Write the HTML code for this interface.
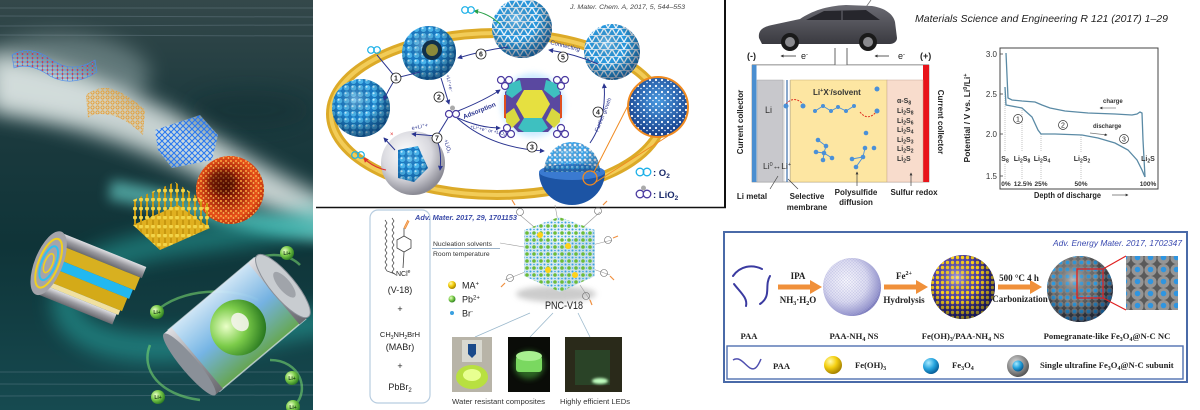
<!DOCTYPE html>
<html><head><meta charset="utf-8">
<style>
html,body{margin:0;padding:0;background:#fff;}
svg{display:block;}
text{font-family:"Liberation Sans",sans-serif;}
.sf{font-family:"Liberation Serif",serif;font-weight:bold;}
</style></head><body>
<svg width="1200" height="410" viewBox="0 0 1200 410" xmlns="http://www.w3.org/2000/svg">
<defs>
  <filter id="b10" x="-50%" y="-50%" width="200%" height="200%"><feGaussianBlur stdDeviation="10"/></filter>
  <filter id="b6" x="-50%" y="-50%" width="200%" height="200%"><feGaussianBlur stdDeviation="6"/></filter>
  <filter id="b3" x="-50%" y="-50%" width="200%" height="200%"><feGaussianBlur stdDeviation="3"/></filter>
  <filter id="b1" x="-50%" y="-50%" width="200%" height="200%"><feGaussianBlur stdDeviation="1.2"/></filter>
  <linearGradient id="lpBg" x1="0" y1="0" x2="0" y2="1">
    <stop offset="0" stop-color="#34484a"/><stop offset=".25" stop-color="#1e3b3f"/>
    <stop offset=".6" stop-color="#0f3438"/><stop offset="1" stop-color="#164a50"/>
  </linearGradient>
  <radialGradient id="gBlue" cx="38%" cy="32%" r="70%">
    <stop offset="0" stop-color="#c4ecff"/><stop offset=".35" stop-color="#4cb8f0"/>
    <stop offset=".75" stop-color="#1a86d2"/><stop offset="1" stop-color="#0b559a"/>
  </radialGradient>
  <radialGradient id="gShade" cx="40%" cy="35%" r="65%">
    <stop offset="0" stop-color="#fff" stop-opacity=".35"/><stop offset=".5" stop-color="#000" stop-opacity="0"/>
    <stop offset="1" stop-color="#001030" stop-opacity=".5"/>
  </radialGradient>
  <radialGradient id="gRed" cx="45%" cy="45%" r="60%">
    <stop offset="0" stop-color="#5a0a02"/><stop offset=".4" stop-color="#a0240a"/>
    <stop offset=".75" stop-color="#e8501a"/><stop offset="1" stop-color="#b02808"/>
  </radialGradient>
  <radialGradient id="gGreen" cx="35%" cy="35%" r="70%">
    <stop offset="0" stop-color="#eaffc8"/><stop offset=".5" stop-color="#7ccc4a"/><stop offset="1" stop-color="#2a7a20"/>
  </radialGradient>
  <radialGradient id="gYel" cx="35%" cy="30%" r="70%">
    <stop offset="0" stop-color="#fffbb0"/><stop offset=".5" stop-color="#f5d010"/><stop offset="1" stop-color="#a88400"/>
  </radialGradient>
  <radialGradient id="gBall" cx="35%" cy="30%" r="70%">
    <stop offset="0" stop-color="#a8eaff"/><stop offset=".55" stop-color="#26a4de"/><stop offset="1" stop-color="#08609a"/>
  </radialGradient>
  <radialGradient id="gGray" cx="40%" cy="35%" r="65%">
    <stop offset="0" stop-color="#dcdcdc"/><stop offset=".7" stop-color="#808080"/><stop offset="1" stop-color="#555"/>
  </radialGradient>
  <radialGradient id="gLav" cx="40%" cy="40%" r="65%">
    <stop offset="0" stop-color="#f6f6fc"/><stop offset=".55" stop-color="#dadaf0"/>
    <stop offset=".9" stop-color="#9494cc"/><stop offset="1" stop-color="#6a6ab0"/>
  </radialGradient>
  <radialGradient id="gPur" cx="40%" cy="35%" r="65%">
    <stop offset="0" stop-color="#7a6cd0"/><stop offset="1" stop-color="#2a1c7a"/>
  </radialGradient>
  <radialGradient id="gCarb" cx="40%" cy="35%" r="65%">
    <stop offset="0" stop-color="#9a9a9a"/><stop offset="1" stop-color="#3a3a3a"/>
  </radialGradient>
  <radialGradient id="gShell" cx="40%" cy="35%" r="65%">
    <stop offset="0" stop-color="#ffffff"/><stop offset=".6" stop-color="#d8d8de"/><stop offset="1" stop-color="#8a8a94"/>
  </radialGradient>
  <radialGradient id="gMag" cx="50%" cy="40%" r="60%">
    <stop offset="0" stop-color="#4a9ae0"/><stop offset="1" stop-color="#163e8a"/>
  </radialGradient>
  <linearGradient id="gSky" x1="0" y1="0" x2="0" y2="1">
    <stop offset="0" stop-color="#d8eeff"/><stop offset=".5" stop-color="#7ab8ea"/><stop offset="1" stop-color="#6aaa50"/>
  </linearGradient>
  <linearGradient id="gMetal" x1="0" y1="0" x2="0" y2="1">
    <stop offset="0" stop-color="#e0e0e4"/><stop offset=".5" stop-color="#9a9aa0"/><stop offset="1" stop-color="#6a6a70"/>
  </linearGradient>
  <linearGradient id="gCar" x1="0" y1="0" x2="0" y2="1">
    <stop offset="0" stop-color="#6a6a72"/><stop offset="1" stop-color="#3a3a40"/>
  </linearGradient>
  <pattern id="pBump" width="7" height="6.5" patternUnits="userSpaceOnUse">
    <rect width="7" height="6.5" fill="#1a7cc8"/>
    <circle cx="3.5" cy="3.2" r="3.1" fill="#4ab6ee" stroke="#1674bd" stroke-width=".5"/>
    <circle cx="2.6" cy="2.3" r="1" fill="#c4ecff"/>
  </pattern>
  <pattern id="pTri" width="8" height="7" patternUnits="userSpaceOnUse">
    <rect width="8" height="7" fill="#2a9ae0"/>
    <path d="M0,7 L4,0 L8,7" fill="none" stroke="#f4faff" stroke-width="1.3"/>
    <path d="M0,0.3 L8,0.3" stroke="#e6f4ff" stroke-width="1"/>
  </pattern>
  <pattern id="pDotW" width="6" height="6" patternUnits="userSpaceOnUse">
    <circle cx="2" cy="2" r="1.1" fill="#fff"/><circle cx="5" cy="4.5" r=".8" fill="#e0f0ff"/>
  </pattern>
  <pattern id="pDotW2" width="5" height="5" patternUnits="userSpaceOnUse">
    <circle cx="2.5" cy="2.5" r="2.2" fill="#3aaaf0" stroke="#1a70c0" stroke-width=".4"/>
    <circle cx="2" cy="2" r=".7" fill="#fff"/>
  </pattern>
  <pattern id="pYel" width="5" height="5" patternUnits="userSpaceOnUse">
    <circle cx="2.5" cy="2.5" r="1.7" fill="#ffd21a"/>
  </pattern>
  <pattern id="pBlu" width="7" height="7" patternUnits="userSpaceOnUse">
    <circle cx="3.5" cy="3.5" r="3.2" fill="#8a8a8a"/><circle cx="3.5" cy="3.5" r="1.9" fill="#2f9be0"/>
  </pattern>
  <pattern id="pInset" width="13" height="12" patternUnits="userSpaceOnUse">
    <rect width="13" height="12" fill="#5a5a5a"/>
    <circle cx="6.5" cy="6" r="6" fill="#959595"/><circle cx="6.5" cy="5.5" r="2.8" fill="#2f95e0"/>
  </pattern>
  <pattern id="pMesh" width="3" height="3" patternUnits="userSpaceOnUse">
    <path d="M0,0 L3,3 M3,0 L0,3" stroke="#a8a8d8" stroke-width=".3"/>
  </pattern>
  <pattern id="pLatB" width="6" height="6" patternUnits="userSpaceOnUse">
    <path d="M0,3 L3,0 L6,3 L3,6 Z" fill="none" stroke="#2a78f0" stroke-width="1.1"/>
  </pattern>
  <pattern id="pLatO" width="5" height="5" patternUnits="userSpaceOnUse">
    <circle cx="2.5" cy="2.5" r="1.6" fill="none" stroke="#e89a28" stroke-width=".8"/>
  </pattern>
  <pattern id="pLatR" width="5" height="4" patternUnits="userSpaceOnUse">
    <path d="M0,2 L5,2 M2.5,0 L2.5,4" stroke="#4a8aee" stroke-width=".8"/><circle cx="2.5" cy="2" r=".9" fill="#e03030"/>
  </pattern>
  <pattern id="pSpeck" width="5" height="5" patternUnits="userSpaceOnUse">
    <circle cx="1" cy="1" r="1.1" fill="#ffa840"/><circle cx="3.5" cy="3" r=".9" fill="#ffe070"/>
  </pattern>
  <pattern id="pRods" width="6" height="9" patternUnits="userSpaceOnUse">
    <rect x="2" width="2" height="9" fill="#c89810"/><circle cx="3" cy="1.5" r="2" fill="#f2d448"/>
  </pattern>
  <pattern id="pCube" width="7" height="7" patternUnits="userSpaceOnUse">
    <circle cx="2" cy="2" r="1.8" fill="#6cbc38"/><circle cx="5.5" cy="5.5" r="1" fill="#3aa0e0"/>
    <circle cx="5.5" cy="2" r=".8" fill="#3aa0e0"/><circle cx="2" cy="5.5" r=".8" fill="#3aa0e0"/>
  </pattern>
  <marker id="ar" viewBox="0 0 6 6" refX="5" refY="3" markerWidth="5" markerHeight="5" orient="auto">
    <path d="M0,0 L6,3 L0,6 Z" fill="#2b3590"/>
  </marker>
  <marker id="arG" viewBox="0 0 6 6" refX="5" refY="3" markerWidth="5" markerHeight="5" orient="auto">
    <path d="M0,0 L6,3 L0,6 Z" fill="#2aa04a"/>
  </marker>
  <marker id="arR" viewBox="0 0 6 6" refX="5" refY="3" markerWidth="5" markerHeight="5" orient="auto">
    <path d="M0,0 L6,3 L0,6 Z" fill="#e03030"/>
  </marker>
  <marker id="arK" viewBox="0 0 6 6" refX="5" refY="3" markerWidth="4" markerHeight="4" orient="auto">
    <path d="M0,0 L6,3 L0,6 Z" fill="#333"/>
  </marker>
  <clipPath id="clipL"><rect x="0" y="0" width="313" height="410"/></clipPath>
  <clipPath id="clipM"><rect x="316" y="0" width="409" height="207"/></clipPath>
</defs>

<rect width="1200" height="410" fill="#fff"/>

<!-- ================= LEFT PANEL ================= -->
<g clip-path="url(#clipL)">
  <rect x="0" y="0" width="313" height="410" fill="url(#lpBg)"/>
  <g opacity=".25" stroke="#9ab" stroke-width="1">
    <line x1="0" y1="8" x2="313" y2="8"/><line x1="0" y1="16" x2="313" y2="17"/>
    <line x1="0" y1="26" x2="313" y2="25"/><line x1="0" y1="35" x2="313" y2="36"/>
    <line x1="0" y1="372" x2="313" y2="372"/><line x1="0" y1="384" x2="313" y2="385"/>
    <line x1="0" y1="396" x2="313" y2="395"/>
  </g>
  <ellipse cx="60" cy="75" rx="90" ry="40" fill="#a8bcbc" opacity=".45" filter="url(#b10)"/>
  <path d="M-10,55 C60,60 150,95 220,140 C260,165 300,185 330,200 L330,232 C280,217 240,197 200,177 C140,147 70,122 -10,112 Z" fill="#e6eeec" opacity=".85" filter="url(#b10)"/>
  <path d="M110,190 C180,200 250,228 330,232" stroke="#6fe0d8" stroke-width="20" fill="none" opacity=".6" filter="url(#b6)"/>
  <path d="M330,215 C250,240 160,235 100,262 C40,292 60,342 140,347 C200,352 260,330 330,320" stroke="#2ec8c0" stroke-width="26" fill="none" opacity=".45" filter="url(#b10)"/>
  <ellipse cx="250" cy="110" rx="60" ry="20" fill="#0d2a2e" opacity=".35" filter="url(#b10)"/>

  <!-- red/blue lattice sheet -->
  <path d="M12,55 Q30,44 52,60 Q72,74 95,60 L97,72 Q72,88 50,76 Q30,62 14,68 Z" fill="url(#pLatR)" stroke="#4a8aee" stroke-width=".6"/>
  <!-- orange sheet -->
  <path d="M86,95 Q100,84 115,90 Q130,96 145,110 L143,135 Q126,118 110,115 Q95,112 88,118 Z" fill="#f0c070" fill-opacity=".25" />
  <path d="M86,95 Q100,84 115,90 Q130,96 145,110 L143,135 Q126,118 110,115 Q95,112 88,118 Z" fill="url(#pLatO)"/>
  <!-- blue lattice -->
  <polygon points="155,130 200,115 218,135 212,160 172,168 158,150" fill="#cfe4f0" fill-opacity=".5"/>
  <polygon points="155,130 200,115 218,135 212,160 172,168 158,150" fill="url(#pLatB)"/>
  <!-- red sphere -->
  <circle cx="230" cy="190" r="34" fill="url(#gRed)"/>
  <circle cx="230" cy="190" r="34" fill="url(#pSpeck)" opacity=".8"/>
  <ellipse cx="222" cy="182" rx="14" ry="12" fill="#4a0802" opacity=".55" filter="url(#b3)"/>
  <!-- gold rods -->
  <polygon points="133,225 178,205 210,228 160,250" fill="#e0b020"/>
  <polygon points="133,200 175,182 210,205 210,228 160,250 133,225" fill="url(#pRods)"/>
  <!-- rolled cylinder -->
  <g transform="rotate(22 85 280)">
    <rect x="45" y="245" width="92" height="12" fill="url(#gMetal)"/>
    <rect x="45" y="257" width="90" height="14" fill="#d8b020"/>
    <rect x="45" y="271" width="88" height="10" fill="#22b8f0"/>
    <rect x="45" y="281" width="86" height="14" fill="#d4aa18"/>
    <rect x="45" y="295" width="84" height="5" fill="#f0e0a0"/>
    <rect x="45" y="300" width="82" height="11" fill="url(#gMetal)"/>
    <ellipse cx="45" cy="278" rx="14" ry="34" fill="#a4a4aa"/>
    <ellipse cx="45" cy="278" rx="10" ry="26" fill="none" stroke="#f0d020" stroke-width="2"/>
    <ellipse cx="45" cy="278" rx="7" ry="18" fill="none" stroke="#30c0f0" stroke-width="2"/>
    <ellipse cx="45" cy="278" rx="4" ry="10" fill="none" stroke="#f0d020" stroke-width="1.5"/>
  </g>
  <!-- green arcs -->
  <g fill="none" stroke="#7ee070" stroke-width="2.5" opacity=".55">
    <path d="M160,308 C190,285 240,290 258,300"/>
    <path d="M250,262 C270,250 290,255 300,265"/>
    <path d="M150,345 C140,370 160,395 200,400"/>
    <path d="M270,360 C300,360 310,390 295,405"/>
  </g>
  <!-- battery -->
  <g transform="translate(240,322) rotate(-40)">
    <rect x="-60" y="-40" width="112" height="80" fill="url(#gSky)" opacity=".95"/>
    <circle cx="-5" cy="3" r="28" fill="url(#gGreen)"/>
    <ellipse cx="0" cy="0" rx="8" ry="10" fill="#f4f4ec" opacity=".9"/>
    <rect x="-60" y="-40" width="112" height="80" fill="none" stroke="#dfe8f0" stroke-width="1.5" opacity=".7"/>
    <rect x="-66" y="-40" width="10" height="80" fill="url(#gMetal)"/>
    <ellipse cx="-66" cy="0" rx="8" ry="40" fill="#8a9098"/>
    <rect x="44" y="-40" width="12" height="80" fill="url(#gMetal)"/>
    <ellipse cx="56" cy="0" rx="12" ry="40" fill="#c8ccd0" stroke="#8a9098"/>
    <ellipse cx="58" cy="0" rx="6" ry="16" fill="#a0a4aa"/>
  </g>
  <!-- Li+ ions -->
  <g font-size="5" font-weight="bold" fill="#1a3a1a" text-anchor="middle">
    <circle cx="287" cy="253" r="7" fill="url(#gGreen)"/><text x="287" y="255">Li+</text>
    <circle cx="157" cy="312" r="7" fill="url(#gGreen)"/><text x="157" y="314">Li+</text>
    <circle cx="292" cy="378" r="7" fill="url(#gGreen)"/><text x="292" y="380">Li+</text>
    <circle cx="158" cy="397" r="7" fill="url(#gGreen)"/><text x="158" y="399">Li+</text>
    <circle cx="293" cy="407" r="7" fill="url(#gGreen)"/><text x="293" y="409">Li+</text>
  </g>
</g>

<!-- ================= MIDDLE TOP PANEL ================= -->
<g clip-path="url(#clipM)">
  <text x="570" y="9" font-size="6.5" font-style="italic" fill="#444" textLength="115" lengthAdjust="spacingAndGlyphs">J. Mater. Chem. A, 2017, 5, 544–553</text>
  <!-- ring -->
  <ellipse cx="497" cy="114" rx="166" ry="81" fill="none" stroke="#dcaa28" stroke-width="10"/>
  <ellipse cx="497" cy="114" rx="166" ry="81" fill="none" stroke="#f2cc58" stroke-width="4"/>

  <!-- sphere A -->
  <circle cx="361" cy="108" r="29" fill="url(#pBump)"/>
  <circle cx="361" cy="108" r="29" fill="url(#gShade)"/>
  <!-- sphere B -->
  <circle cx="429" cy="53" r="27" fill="url(#pBump)"/>
  <circle cx="429" cy="53" r="27" fill="url(#gShade)"/>
  <circle cx="432" cy="50" r="10" fill="#10304a"/>
  <circle cx="432" cy="50" r="6" fill="#8c8a3a"/>
  <!-- sphere C -->
  <circle cx="522" cy="28" r="30" fill="url(#pTri)"/>
  <circle cx="522" cy="28" r="30" fill="url(#gShade)"/>
  <!-- sphere D -->
  <circle cx="612" cy="52" r="28" fill="url(#pTri)"/>
  <circle cx="612" cy="52" r="28" fill="url(#gShade)"/>

  <!-- polyhedron E -->
  <circle cx="533" cy="105" r="32" fill="#b8e2ff" opacity=".7" filter="url(#b3)"/>
  <polygon points="518,78 548,78 561,92 561,118 548,132 518,132 505,118 505,92" fill="#5a48a0"/>
  <polygon points="524,90 542,90 550,104 542,118 524,118 516,104" fill="#e6e040"/>
  <polygon points="524,118 542,118 548,128 542,132 524,132 518,128" fill="#3ec0c0"/>
  <polygon points="508,84 520,80 522,90 512,98 506,94" fill="#3ec0c0"/>
  <polygon points="546,80 558,84 560,94 554,98 544,90" fill="#3ec0c0"/>
  <polygon points="506,114 514,108 520,120 512,128 506,122" fill="#d8d840"/>
  <polygon points="552,108 560,114 560,122 554,128 546,120" fill="#d8d840"/>
  <line x1="505" y1="95" x2="505" y2="118" stroke="#e05020" stroke-width="2"/>
  <line x1="561" y1="95" x2="561" y2="118" stroke="#e05020" stroke-width="2"/>
  <!-- LiO2 molecules around E -->
  <g fill="#fff" stroke="#4a3aa0" stroke-width="1.2">
    <circle cx="505" cy="86" r="3.5"/><circle cx="501" cy="80" r="3.5"/><circle cx="509" cy="80" r="3.5"/>
    <circle cx="561" cy="86" r="3.5"/><circle cx="557" cy="80" r="3.5"/><circle cx="565" cy="80" r="3.5"/>
    <circle cx="507" cy="128" r="3.5"/><circle cx="503" cy="134" r="3.5"/><circle cx="511" cy="134" r="3.5"/>
    <circle cx="561" cy="128" r="3.5"/><circle cx="557" cy="134" r="3.5"/><circle cx="565" cy="134" r="3.5"/>
  </g>

  <!-- sphere F hemisphere -->
  <path d="M539,172 A33 33 0 0 0 605,172 Z" fill="#1c54a4"/>
  <ellipse cx="572" cy="172" rx="33" ry="8" fill="#3a7ad0"/>
  <path d="M544,172 A28 30 0 0 1 600,172 Z" fill="url(#pDotW2)"/>
  <path d="M544,172 A28 30 0 0 1 600,172 Z" fill="url(#gShade)" opacity=".6"/>
  <circle cx="590" cy="178" r="7" fill="none" stroke="#f08a20" stroke-width="1.3"/>
  <line x1="594" y1="172" x2="640" y2="82" stroke="#f08a20" stroke-width="1"/>
  <line x1="596" y1="182" x2="668" y2="136" stroke="#f08a20" stroke-width="1"/>
  <!-- magnifier G -->
  <circle cx="658" cy="107" r="30" fill="url(#gMag)"/>
  <circle cx="658" cy="107" r="30" fill="url(#pDotW)"/>
  <circle cx="658" cy="107" r="30" fill="none" stroke="#f08a20" stroke-width="2"/>

  <!-- sphere H -->
  <circle cx="413" cy="163" r="32" fill="url(#gShell)"/>
  <path d="M398,150 L418,146 L428,168 L414,182 L398,178 Z" fill="url(#pBump)"/>
  <path d="M398,150 L418,146 L428,168 L414,182 L398,178 Z" fill="url(#gShade)" opacity=".5"/>

  <!-- LiO2 central molecule -->
  <g fill="#fff" stroke="#4a3aa0" stroke-width="1.2">
    <circle cx="449" cy="114" r="3.5"/><circle cx="456" cy="114" r="3.5"/>
  </g>
  <circle cx="452.5" cy="108" r="2.5" fill="#aaa"/>

  <!-- arrows -->
  <g fill="none" stroke="#2b3590" stroke-width="1">
    <path d="M508,47 Q485,50 458,58" marker-end="url(#ar)"/>
    <path d="M598,64 Q575,54 549,50" marker-end="url(#ar)"/>
    <path d="M590,143 Q607,118 604,84" marker-end="url(#ar)"/>
    <path d="M457,118 Q490,148 544,151" marker-end="url(#ar)"/>
    <path d="M458,111 Q485,100 500,90" marker-end="url(#ar)"/>
    <path d="M458,118 Q480,128 500,128" marker-end="url(#ar)"/>
    <path d="M441,78 L449,104" marker-end="url(#ar)"/>
    <path d="M448,118 L437,136 L412,134" marker-end="url(#ar)"/>
    <path d="M437,140 Q442,152 440,170" marker-end="url(#ar)"/>
    <path d="M377,55 L396,78 L420,72"/>
    <path d="M396,78 Q388,90 384,100" marker-end="url(#ar)"/>
  </g>
  <path d="M500,24 Q488,13 474,11" fill="none" stroke="#2aa04a" stroke-width="1" marker-end="url(#arG)"/>
  <path d="M386,170 Q372,167 364,158" fill="none" stroke="#e03030" stroke-width="1" marker-end="url(#arR)"/>
  <path d="M395,150 L384,138" fill="none" stroke="#2b3590" stroke-width="1" marker-end="url(#ar)"/>
  <text x="390" y="136" font-size="6" fill="#e03030">×</text>
  <!-- O2 icons -->
  <g fill="none" stroke="#1ab0e8" stroke-width="1.2">
    <circle cx="371" cy="50" r="3.3"/><circle cx="377" cy="50" r="3.3"/>
    <circle cx="465" cy="10" r="3.3"/><circle cx="471" cy="10" r="3.3"/>
    <circle cx="355" cy="155" r="3.3"/><circle cx="361" cy="155" r="3.3"/>
  </g>
  <!-- circled numbers -->
  <g font-size="7" font-weight="bold" text-anchor="middle" fill="#222">
    <circle cx="481" cy="54" r="5" fill="#fff" stroke="#222" stroke-width=".8"/><text x="481" y="56.5">6</text>
    <circle cx="563" cy="57" r="5" fill="#fff" stroke="#222" stroke-width=".8"/><text x="563" y="59.5">5</text>
    <circle cx="396" cy="78" r="5" fill="#fff" stroke="#222" stroke-width=".8"/><text x="396" y="80.5">1</text>
    <circle cx="439" cy="97" r="5" fill="#fff" stroke="#222" stroke-width=".8"/><text x="439" y="99.5">2</text>
    <circle cx="598" cy="112" r="5" fill="#fff" stroke="#222" stroke-width=".8"/><text x="598" y="114.5">4</text>
    <circle cx="532" cy="147" r="5" fill="#fff" stroke="#222" stroke-width=".8"/><text x="532" y="149.5">3</text>
    <circle cx="437" cy="138" r="5" fill="#fff" stroke="#222" stroke-width=".8"/><text x="437" y="140.5">7</text>
  </g>
  <!-- small labels -->
  <g fill="#2b3590" font-size="6">
    <text transform="translate(550,44) rotate(14)">Connecting</text>
    <text transform="translate(598,132) rotate(-68)" font-size="5.5">Further growth</text>
    <text transform="translate(464,119) rotate(-22)" font-size="6.5" font-weight="bold">Adsorption</text>
    <text transform="translate(470,128) rotate(12)" font-size="4.8">+Li⁺+e⁻ or +LiO₂</text>
    <text transform="translate(446,75) rotate(78)" font-size="5">+Li⁺+e⁻</text>
    <text transform="translate(412,130) rotate(-12)" font-size="5.5">e+Li⁺+</text>
    <text transform="translate(444,140) rotate(74)" font-size="5.5">+LiO₂</text>
  </g>
  <!-- legend -->
  <g fill="none" stroke="#1ab0e8" stroke-width="1.3">
    <circle cx="640" cy="172" r="3.8"/><circle cx="647" cy="172" r="3.8"/>
  </g>
  <text x="653" y="176" font-size="9.5" font-weight="bold" fill="#1a2a6a">: O<tspan font-size="6.5" dy="2">2</tspan></text>
  <g fill="#fff" stroke="#4a3aa0" stroke-width="1.3">
    <circle cx="640" cy="194" r="3.8"/><circle cx="647" cy="194" r="3.8"/>
  </g>
  <circle cx="643.5" cy="188" r="2.5" fill="#aaa"/>
  <text x="653" y="198" font-size="9.5" font-weight="bold" fill="#1a2a6a">: LiO<tspan font-size="6.5" dy="2">2</tspan></text>
</g>
<line x1="725" y1="0" x2="725" y2="207" stroke="#111" stroke-width="2"/>
<line x1="316" y1="207.5" x2="726" y2="207.5" stroke="#111" stroke-width="1.5"/>

<!-- ================= MIDDLE BOTTOM PANEL ================= -->
<rect x="370" y="210" width="60" height="193" rx="8" fill="none" stroke="#b8cde0" stroke-width="1.2"/>
<text x="415" y="220" font-size="7" font-weight="bold" font-style="italic" fill="#3a4aa8" textLength="102" lengthAdjust="spacingAndGlyphs">Adv. Mater. 2017, 29, 1701153</text>
<!-- molecule -->
<path d="M392,218 l2,3 l-2,3 l2,3 l-2,3 l2,3 l-2,3 l2,3 l-2,3 l2,3 l-2,3 l2,3 l-2,3 l2,3 l-2,3 l2,3 l-2,3 l2,3 l-2,3 l4,3" fill="none" stroke="#444" stroke-width=".7"/>
<path d="M385,220 l2,3 l-2,3 l2,3 l-2,3 l2,3 l-2,3 l2,3 l-2,3 l2,3 l-2,3 l2,3 l-2,3 l2,3 l-2,3 l2,3 l-2,3 l2,3 l8,3" fill="none" stroke="#444" stroke-width=".7"/>
<polygon points="404,236 411,240 411,248 404,252 397,248 397,240" fill="none" stroke="#444" stroke-width=".8"/>
<line x1="404" y1="236" x2="404" y2="228" stroke="#444" stroke-width=".8"/>
<path d="M404,228 L408,220 M405,229 L409,221" stroke="#f08a30" stroke-width="1"/>
<line x1="404" y1="252" x2="403" y2="268" stroke="#444" stroke-width=".8"/>
<text x="396" y="276" font-size="7" fill="#222">NCl<tspan font-size="5" dy="-3">e</tspan></text>
<g font-size="9" fill="#222" text-anchor="middle">
  <text x="400" y="293">(V-18)</text>
  <text x="400" y="312">+</text>
  <text x="400" y="337" font-size="7.5">CH<tspan font-size="5" dy="2">3</tspan><tspan dy="-2">NH</tspan><tspan font-size="5" dy="2">2</tspan><tspan dy="-2">BrH</tspan></text>
  <text x="400" y="350">(MABr)</text>
  <text x="400" y="369">+</text>
  <text x="400" y="390">PbBr<tspan font-size="6" dy="2">2</tspan></text>
</g>
<text x="433" y="246" font-size="6.8" fill="#333">Nucleation solvents</text>
<line x1="432" y1="248.5" x2="500" y2="248.5" stroke="#7a9ab8" stroke-width=".8"/>
<text x="433" y="256" font-size="6.8" fill="#333">Room temperature</text>
<!-- cube -->
<ellipse cx="556" cy="294" rx="40" ry="8" fill="#999" opacity=".5" filter="url(#b3)"/>
<g stroke="#999" stroke-width=".6">
  <line x1="500" y1="243" x2="530" y2="248"/><line x1="505" y1="280" x2="530" y2="270"/>
  <line x1="520" y1="215" x2="540" y2="232"/><line x1="600" y1="212" x2="580" y2="230"/>
  <line x1="612" y1="240" x2="592" y2="245"/><line x1="610" y1="275" x2="590" y2="268"/>
  <line x1="590" y1="300" x2="580" y2="285"/><line x1="555" y1="205" x2="558" y2="222"/>
</g>
<polygon points="524,230 559,217 595,230 560,244" fill="#e6f2f8"/>
<polygon points="524,230 560,244 560,292 524,276" fill="#d4e8f0"/>
<polygon points="560,244 595,230 595,276 560,292" fill="#c8e0ea"/>
<polygon points="524,230 559,217 595,230 595,276 560,292 524,276" fill="url(#pCube)"/>
<g fill="#ffd21a"><circle cx="540" cy="235" r="3"/><circle cx="568" cy="246" r="3"/><circle cx="548" cy="270" r="3"/><circle cx="575" cy="275" r="3"/></g>
<g fill="none" stroke="#666" stroke-width=".6">
  <circle cx="520" cy="212" r="3.5"/><circle cx="598" cy="211" r="3.5"/><circle cx="608" cy="240" r="3.5"/>
  <circle cx="510" cy="278" r="3.5"/><circle cx="604" cy="273" r="3.5"/><circle cx="586" cy="296" r="3.5"/>
</g>
<g stroke="#f09040" stroke-width="1.2">
  <line x1="515" y1="205" x2="512" y2="200"/><line x1="603" y1="205" x2="607" y2="201"/>
  <line x1="613" y1="238" x2="618" y2="236"/><line x1="505" y1="283" x2="501" y2="287"/>
  <line x1="610" y1="276" x2="614" y2="280"/><line x1="590" y1="300" x2="592" y2="305"/>
</g>
<!-- legend -->
<circle cx="452" cy="285" r="4" fill="url(#gYel)"/>
<text x="462" y="288.5" font-size="9" fill="#222">MA<tspan font-size="6" dy="-3">+</tspan></text>
<circle cx="452" cy="299" r="3.5" fill="url(#gGreen)"/>
<text x="462" y="302.5" font-size="9" fill="#222">Pb<tspan font-size="6" dy="-3">2+</tspan></text>
<circle cx="452" cy="313" r="2" fill="#3aa0e0"/>
<text x="462" y="316.5" font-size="9" fill="#222">Br<tspan font-size="6" dy="-3">-</tspan></text>
<text x="545" y="309" font-size="11" fill="#222" textLength="38" lengthAdjust="spacingAndGlyphs">PNC-V18</text>
<g stroke="#9ab8cc" stroke-width=".8">
  <line x1="530" y1="313" x2="475" y2="337"/><line x1="553" y1="313" x2="530" y2="337"/><line x1="578" y1="313" x2="590" y2="337"/>
</g>
<!-- photos -->
<rect x="452" y="337" width="40" height="55" fill="#b8b4a8"/>
<rect x="462" y="340" width="20" height="22" fill="#d8d8d0"/>
<path d="M468,344 h8 v10 l-4,4 l-4,-4 Z" fill="#1a4a8a"/>
<ellipse cx="472" cy="377" rx="16" ry="12" fill="#b8e040"/>
<ellipse cx="472" cy="375" rx="9" ry="6" fill="#e8ff90"/>
<rect x="508" y="337" width="42" height="55" fill="#0a0c08"/>
<ellipse cx="529" cy="365" rx="15" ry="14" fill="#50c040" opacity=".5" filter="url(#b3)"/>
<rect x="516" y="356" width="26" height="16" rx="3" fill="#7ad860"/>
<ellipse cx="529" cy="356" rx="13" ry="5" fill="#a8f090"/>
<rect x="565" y="337" width="57" height="55" fill="#2a2a1a"/>
<rect x="575" y="350" width="35" height="35" fill="#2a4a2a" opacity=".8"/>
<ellipse cx="600" cy="381" rx="8" ry="3" fill="#c0ffc0" filter="url(#b1)"/>
<text x="452" y="404" font-size="7.2" fill="#333" textLength="93" lengthAdjust="spacingAndGlyphs">Water resistant composites</text>
<text x="560" y="404" font-size="7.2" fill="#333" textLength="70" lengthAdjust="spacingAndGlyphs">Highly efficient LEDs</text>

<!-- ================= TOP RIGHT PANEL ================= -->
<!-- car -->
<line x1="866" y1="7" x2="871" y2="0" stroke="#777" stroke-width=".8"/>
<path d="M759,38 C758,31 762,27 772,25 L800,19 C812,11 826,6 846,5 L872,6 C885,8 893,14 895,22 L897,38 C897,42 893,44 890,44 L762,44 Z" fill="url(#gCar)"/>
<path d="M806,20 L824,11 L866,10 L880,20 Z" fill="#26262c"/>
<line x1="842" y1="10" x2="842" y2="20" stroke="#55555c" stroke-width="1.5"/>
<circle cx="790" cy="42" r="9" fill="#1a1a1a"/><circle cx="790" cy="42" r="5" fill="#8a8a8e"/>
<circle cx="868" cy="42" r="9" fill="#1a1a1a"/><circle cx="868" cy="42" r="5" fill="#8a8a8e"/>
<text x="915" y="22" font-size="10.5" font-style="italic" fill="#222" textLength="253" lengthAdjust="spacingAndGlyphs">Materials Science and Engineering R 121 (2017) 1–29</text>
<!-- wires -->
<g stroke="#555" stroke-width=".9" fill="none">
  <path d="M835,48 L835,65 L752,65"/>
  <path d="M847,48 L847,65 L929,65"/>
</g>
<text x="747" y="59" font-size="9" font-weight="bold" fill="#222">(-)</text>
<text x="920" y="59" font-size="9" font-weight="bold" fill="#222">(+)</text>
<line x1="796" y1="56" x2="781" y2="56" stroke="#333" stroke-width=".8" marker-end="url(#arK)"/>
<text x="801" y="59" font-size="9" fill="#222">e<tspan font-size="6" dy="-3">-</tspan></text>
<line x1="889" y1="56" x2="875" y2="56" stroke="#333" stroke-width=".8" marker-end="url(#arK)"/>
<text x="898" y="59" font-size="9" fill="#222">e<tspan font-size="6" dy="-3">-</tspan></text>
<!-- cell -->
<rect x="752" y="65" width="177" height="117" fill="#fff" stroke="#777" stroke-width=".6"/>
<rect x="752" y="65" width="4.5" height="117" fill="#4a8ed0"/>
<rect x="923" y="65" width="6" height="117" fill="#e8141a"/>
<rect x="757" y="80" width="26" height="102" fill="#c8c8cc" stroke="#999" stroke-width=".4"/>
<line x1="787" y1="80" x2="787" y2="182" stroke="#4a7ab0" stroke-width="1.3"/>
<line x1="784" y1="80" x2="784" y2="182" stroke="#999" stroke-width=".4"/>
<line x1="790" y1="80" x2="790" y2="182" stroke="#999" stroke-width=".4"/>
<rect x="790.5" y="80" width="96.5" height="102" fill="#fde6a2" stroke="#c8b070" stroke-width=".5"/>
<rect x="887" y="80" width="36" height="102" fill="#f8dccc" stroke="#c8a898" stroke-width=".5"/>
<text x="765" y="113" font-size="9" fill="#333">Li</text>
<text x="813" y="95" font-size="8" font-weight="bold" fill="#333">Li<tspan font-size="5.5" dy="-3">+</tspan><tspan dy="3">X</tspan><tspan font-size="5.5" dy="-3">-</tspan><tspan dy="3">/solvent</tspan></text>
<g font-size="7" font-weight="bold" fill="#333">
  <text x="897" y="103">α-S<tspan font-size="5" dy="1.5">8</tspan></text>
  <text x="897" y="113">Li<tspan font-size="5" dy="1.5">2</tspan><tspan dy="-1.5">S</tspan><tspan font-size="5" dy="1.5">8</tspan></text>
  <text x="897" y="123">Li<tspan font-size="5" dy="1.5">2</tspan><tspan dy="-1.5">S</tspan><tspan font-size="5" dy="1.5">6</tspan></text>
  <text x="897" y="132">Li<tspan font-size="5" dy="1.5">2</tspan><tspan dy="-1.5">S</tspan><tspan font-size="5" dy="1.5">4</tspan></text>
  <text x="897" y="142">Li<tspan font-size="5" dy="1.5">2</tspan><tspan dy="-1.5">S</tspan><tspan font-size="5" dy="1.5">3</tspan></text>
  <text x="897" y="151">Li<tspan font-size="5" dy="1.5">2</tspan><tspan dy="-1.5">S</tspan><tspan font-size="5" dy="1.5">2</tspan></text>
  <text x="897" y="161">Li<tspan font-size="5" dy="1.5">2</tspan><tspan dy="-1.5">S</tspan></text>
</g>
<text x="763" y="169" font-size="8.5" fill="#333">Li<tspan font-size="5.5" dy="-3">0</tspan><tspan dy="3">↔Li</tspan><tspan font-size="5.5" dy="-3">+</tspan></text>
<!-- dots & chains -->
<path d="M786,104 Q794,95 803,104" fill="none" stroke="#e03020" stroke-width="1" stroke-dasharray="2 1.2"/>
<path d="M860,112 Q868,122 877,111" fill="none" stroke="#e03020" stroke-width="1" stroke-dasharray="2 1.2"/>
<g stroke="#4a90d8" stroke-width=".9" fill="none">
  <polyline points="815,111 823,106 831,111 838,107 846,111 854,106"/>
  <polyline points="818,140 826,146 824,153 832,158"/><line x1="824" y1="153" x2="816" y2="152"/><line x1="824" y1="153" x2="823" y2="160"/>
  <polyline points="852,159 863,157 865,148"/><line x1="863" y1="157" x2="856" y2="167"/>
</g>
<g fill="#4a90d8">
  <circle cx="786" cy="106" r="2.5"/><circle cx="803" cy="106" r="2.5"/>
  <circle cx="815" cy="111" r="2"/><circle cx="823" cy="106" r="2"/><circle cx="831" cy="111" r="2"/><circle cx="838" cy="107" r="2"/><circle cx="846" cy="111" r="2"/><circle cx="854" cy="106" r="2"/>
  <circle cx="877" cy="89" r="2.5"/><circle cx="877" cy="111" r="2.5"/>
  <circle cx="818" cy="140" r="2.3"/><circle cx="826" cy="146" r="2.3"/><circle cx="824" cy="153" r="2.3"/><circle cx="816" cy="152" r="2.3"/><circle cx="832" cy="158" r="2.3"/><circle cx="823" cy="160" r="2.3"/>
  <circle cx="852" cy="159" r="2.3"/><circle cx="863" cy="157" r="2.3"/><circle cx="865" cy="148" r="2.3"/><circle cx="856" cy="167" r="2.3"/><circle cx="874" cy="148" r="2.3"/><circle cx="866" cy="133" r="2.3"/>
</g>
<!-- rotated labels -->
<text transform="translate(743,122) rotate(-90)" font-size="8" font-weight="bold" fill="#222" text-anchor="middle">Current collector</text>
<text transform="translate(938,122) rotate(90)" font-size="8" font-weight="bold" fill="#222" text-anchor="middle">Current collector</text>
<!-- pointer lines -->
<g stroke="#444" stroke-width=".7" fill="none">
  <line x1="770" y1="189" x2="778" y2="176"/>
  <line x1="798" y1="189" x2="788" y2="179"/>
  <line x1="857" y1="186" x2="857" y2="172" marker-end="url(#arK)"/>
  <line x1="911" y1="186" x2="911" y2="173" marker-end="url(#arK)"/>
</g>
<g font-size="8" font-weight="bold" fill="#222" text-anchor="middle">
  <text x="752" y="199">Li metal</text>
  <text x="807" y="199">Selective</text>
  <text x="807" y="210">membrane</text>
  <text x="856" y="195">Polysulfide</text>
  <text x="856" y="205">diffusion</text>
  <text x="914" y="195">Sulfur redox</text>
</g>
<!-- graph -->
<rect x="1000" y="48" width="158" height="141" fill="none" stroke="#444" stroke-width="1"/>
<g font-size="8" fill="#333" text-anchor="end">
  <text x="997" y="57">3.0</text><text x="997" y="97">2.5</text><text x="997" y="137">2.0</text><text x="997" y="179">1.5</text>
</g>
<g stroke="#444" stroke-width=".8">
  <line x1="1000" y1="54" x2="1003" y2="54"/><line x1="1000" y1="94" x2="1003" y2="94"/>
  <line x1="1000" y1="134" x2="1003" y2="134"/><line x1="1000" y1="176" x2="1003" y2="176"/>
</g>
<text transform="translate(970,118) rotate(-90)" font-size="8.5" font-weight="bold" fill="#222" text-anchor="middle">Potential / V vs. Li<tspan font-size="5.5" dy="-3">0</tspan><tspan dy="3">/Li</tspan><tspan font-size="5.5" dy="-3">+</tspan></text>
<g stroke="#aaa" stroke-width=".7" stroke-dasharray="1 1">
  <line x1="1005" y1="88" x2="1005" y2="152"/><line x1="1005" y1="164" x2="1005" y2="179"/>
  <line x1="1022" y1="108" x2="1022" y2="152"/><line x1="1022" y1="164" x2="1022" y2="179"/>
  <line x1="1041" y1="134" x2="1041" y2="152"/><line x1="1041" y1="164" x2="1041" y2="179"/>
  <line x1="1081" y1="135" x2="1081" y2="152"/><line x1="1081" y1="164" x2="1081" y2="179"/>
</g>
<g fill="none" stroke="#5a8aa5" stroke-width="1.3">
  <polyline points="1006,53 1008,98 1012,100 1022,101 1035,102 1042,105 1050,108 1065,111 1088,113 1115,114 1132,115 1137,114 1140,112 1142,113 1143,140 1145,177"/>
  <polyline points="1005,87 1006,105 1022,108 1032,117 1038,130 1041,134 1055,134 1082,135 1098,138 1115,143 1128,150 1137,160 1142,170 1145,177"/>
</g>
<g font-size="7" fill="#222" text-anchor="middle">
  <circle cx="1018" cy="119" r="4.5" fill="#fff" stroke="#333" stroke-width=".7"/><text x="1018" y="121.5">1</text>
  <circle cx="1063" cy="125" r="4.5" fill="#fff" stroke="#333" stroke-width=".7"/><text x="1063" y="127.5">2</text>
  <circle cx="1124" cy="139" r="4.5" fill="#fff" stroke="#333" stroke-width=".7"/><text x="1124" y="141.5">3</text>
</g>
<text x="1103" y="103" font-size="6" font-weight="bold" fill="#333">charge</text>
<line x1="1116" y1="108" x2="1100" y2="108" stroke="#777" stroke-width=".7" marker-end="url(#arK)"/>
<text x="1093" y="128" font-size="6" font-weight="bold" fill="#333">discharge</text>
<line x1="1090" y1="133" x2="1107" y2="135" stroke="#777" stroke-width=".7" marker-end="url(#arK)"/>
<g font-size="7" font-weight="bold" fill="#333" text-anchor="middle">
  <text x="1005" y="161">S<tspan font-size="5" dy="1.5">8</tspan></text>
  <text x="1022" y="161">Li<tspan font-size="5" dy="1.5">2</tspan><tspan dy="-1.5">S</tspan><tspan font-size="5" dy="1.5">8</tspan></text>
  <text x="1042" y="161">Li<tspan font-size="5" dy="1.5">2</tspan><tspan dy="-1.5">S</tspan><tspan font-size="5" dy="1.5">4</tspan></text>
  <text x="1082" y="161">Li<tspan font-size="5" dy="1.5">2</tspan><tspan dy="-1.5">S</tspan><tspan font-size="5" dy="1.5">2</tspan></text>
  <text x="1148" y="161">Li<tspan font-size="5" dy="1.5">2</tspan><tspan dy="-1.5">S</tspan></text>
  <text x="1006" y="186" font-size="6.5">0%</text>
  <text x="1023" y="186" font-size="6.5">12.5%</text>
  <text x="1041" y="186" font-size="6.5">25%</text>
  <text x="1081" y="186" font-size="6.5">50%</text>
  <text x="1148" y="186" font-size="6.5">100%</text>
</g>
<text x="1034" y="198" font-size="8.5" font-weight="bold" fill="#222" textLength="67" lengthAdjust="spacingAndGlyphs">Depth of discharge</text>
<line x1="1112" y1="195" x2="1128" y2="195" stroke="#555" stroke-width=".7" marker-end="url(#arK)"/>

<!-- ================= BOTTOM RIGHT PANEL ================= -->
<rect x="724" y="232" width="463" height="150" fill="#fff" stroke="#4a6aa8" stroke-width="2"/>
<text x="1182" y="246" font-size="8.2" font-style="italic" fill="#3a4ab0" text-anchor="end" textLength="129" lengthAdjust="spacingAndGlyphs">Adv. Energy Mater. 2017, 1702347</text>
<!-- PAA squiggles -->
<g fill="none" stroke="#3a3aa0" stroke-width="2" stroke-linecap="round">
  <path d="M733,276 C740,266 752,264 762,269"/>
  <path d="M770,276 C764,286 772,296 760,304"/>
  <path d="M734,284 C740,292 748,298 746,306"/>
</g>
<!-- arrows -->
<g fill="#f0903a">
  <rect x="778" y="284.5" width="34" height="5"/><polygon points="810,280 822,287 810,294"/>
  <rect x="884" y="284.5" width="34" height="5"/><polygon points="916,280 928,287 916,294"/>
  <rect x="998" y="284.5" width="34" height="5"/><polygon points="1030,280 1042,287 1030,294"/>
</g>
<g class="sf" font-size="9" fill="#222" text-anchor="middle">
  <text class="sf" x="798" y="279">IPA</text>
  <text class="sf" x="798" y="303">NH<tspan font-size="6" dy="2">3</tspan><tspan dy="-2">·H</tspan><tspan font-size="6" dy="2">2</tspan><tspan dy="-2">O</tspan></text>
  <text class="sf" x="904" y="279">Fe<tspan font-size="6" dy="-4">2+</tspan></text>
  <text class="sf" x="904" y="303">Hydrolysis</text>
  <text class="sf" x="1019" y="281">500 °C 4 h</text>
  <text class="sf" x="1020" y="302">Carbonization</text>
</g>
<!-- spheres -->
<circle cx="852" cy="287" r="29" fill="url(#gLav)"/>
<circle cx="852" cy="287" r="29" fill="url(#pMesh)" opacity=".7"/>
<circle cx="963" cy="287" r="32" fill="url(#gPur)"/>
<circle cx="963" cy="287" r="32" fill="url(#pYel)"/>
<circle cx="963" cy="287" r="32" fill="url(#gShade)"/>
<circle cx="1080" cy="289" r="33" fill="url(#gCarb)"/>
<circle cx="1080" cy="289" r="33" fill="url(#pBlu)"/>
<circle cx="1080" cy="289" r="33" fill="url(#gShade)"/>
<rect x="1077" y="269" width="26" height="29" fill="none" stroke="#e02020" stroke-width="1.3"/>
<line x1="1103" y1="269" x2="1126" y2="256" stroke="#e02020" stroke-width="1.2"/>
<line x1="1103" y1="298" x2="1126" y2="310" stroke="#e02020" stroke-width="1.2"/>
<rect x="1126" y="256" width="52" height="54" fill="url(#pInset)"/>
<!-- labels -->
<g font-size="8.6" fill="#222" text-anchor="middle">
  <text class="sf" x="749" y="339">PAA</text>
  <text class="sf" x="854" y="339">PAA-NH<tspan font-size="6" dy="2">4</tspan><tspan dy="-2"> NS</tspan></text>
  <text class="sf" x="963" y="339">Fe(OH)<tspan font-size="6" dy="2">3</tspan><tspan dy="-2">/PAA-NH</tspan><tspan font-size="6" dy="2">4</tspan><tspan dy="-2"> NS</tspan></text>
  <text class="sf" x="1107" y="339">Pomegranate-like Fe<tspan font-size="6" dy="2">3</tspan><tspan dy="-2">O</tspan><tspan font-size="6" dy="2">4</tspan><tspan dy="-2">@N-C NC</tspan></text>
</g>
<!-- legend -->
<rect x="727" y="346" width="456" height="33" fill="#fff" stroke="#5070b0" stroke-width="1.4"/>
<path d="M733,360 C740,356 744,364 750,368 C755,371 758,366 761,359" fill="none" stroke="#5050b0" stroke-width="1.5"/>
<circle cx="833" cy="365" r="9" fill="url(#gYel)"/>
<circle cx="931" cy="366" r="8" fill="url(#gBall)"/>
<circle cx="1018" cy="366" r="11" fill="url(#gGray)"/>
<circle cx="1018" cy="366" r="5.5" fill="url(#gBall)"/>
<g font-size="8.6" fill="#222">
  <text class="sf" x="773" y="369">PAA</text>
  <text class="sf" x="855" y="368">Fe(OH)<tspan font-size="6" dy="2">3</tspan></text>
  <text class="sf" x="952" y="368">Fe<tspan font-size="6" dy="2">3</tspan><tspan dy="-2">O</tspan><tspan font-size="6" dy="2">4</tspan></text>
  <text class="sf" x="1040" y="368">Single ultrafine Fe<tspan font-size="6" dy="2">3</tspan><tspan dy="-2">O</tspan><tspan font-size="6" dy="2">4</tspan><tspan dy="-2">@N-C subunit</tspan></text>
</g>
</svg>
</body></html>
